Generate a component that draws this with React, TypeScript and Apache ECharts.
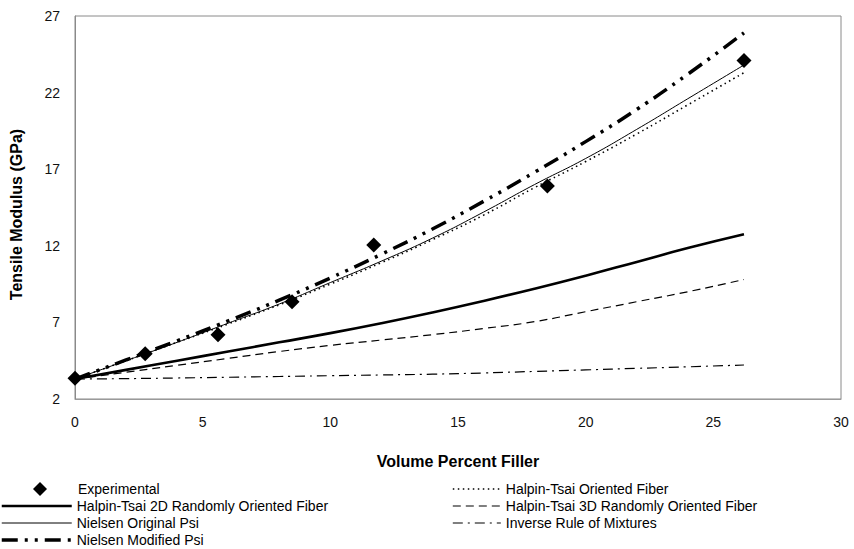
import React, { useEffect, useRef } from "react";
import * as echarts from "echarts";

const xModel = [0, 2, 4, 6, 8, 10, 12, 14, 16, 18, 20, 22, 24, 26.2];
const htOriented = [3.3, 4.5, 5.7, 6.9, 8.15, 9.5, 10.9, 12.4, 14.0, 15.8, 17.5, 19.3, 21.2, 23.3];
const ht2D = [3.3, 3.9, 4.5, 5.1, 5.7, 6.3, 6.95, 7.65, 8.4, 9.2, 10.05, 10.95, 11.85, 12.75];
const ht3D = [3.3, 3.75, 4.2, 4.65, 5.1, 5.5, 5.85, 6.2, 6.6, 7.05, 7.7, 8.35, 9.0, 9.8];
const nielsenOriginal = [3.3, 4.5, 5.7, 6.95, 8.2, 9.6, 11.0, 12.5, 14.2, 16.0, 17.7, 19.6, 21.6, 23.8];
const nielsenModified = [3.3, 4.55, 5.8, 7.1, 8.45, 9.9, 11.45, 13.1, 14.9, 16.8, 18.8, 20.9, 23.2, 25.9];
const inverseROM = [3.3, 3.33, 3.37, 3.42, 3.47, 3.52, 3.57, 3.62, 3.7, 3.8, 3.9, 4.0, 4.1, 4.22];

const expX = [0, 2.75, 5.6, 8.5, 11.7, 18.5, 26.2];
const expY = [3.35, 4.95, 6.2, 8.35, 12.05, 15.9, 24.1];

const xTicks = [0, 5, 10, 15, 20, 25, 30];
const yTicks = [2, 7, 12, 17, 22, 27];

const FONT = "'Liberation Sans', Arial, sans-serif";

const S_EXP = "Experimental";
const S_HTO = "Halpin-Tsai Oriented Fiber";
const S_HT2 = "Halpin-Tsai 2D Randomly Oriented Fiber";
const S_HT3 = "Halpin-Tsai 3D Randomly Oriented Fiber";
const S_NO = "Nielsen Original Psi";
const S_ROM = "Inverse Rule of Mixtures";
const S_NM = "Nielsen Modified Psi";

const pair = (ys: number[]) => xModel.map((x, i) => [x, ys[i]]);

export default function App() {
  const ref = useRef<HTMLDivElement>(null);
  useEffect(() => {
    if (!ref.current) return;
    const chart = echarts.init(ref.current, null, { renderer: "svg" });
    const lineStyles: Record<string, { width: number; type: any }> = {
      [S_HTO]: { width: 1.6, type: [1.5, 3.5] },
      [S_HT2]: { width: 2.6, type: "solid" },
      [S_HT3]: { width: 1.2, type: [8, 5] },
      [S_NO]: { width: 1, type: "solid" },
      [S_ROM]: { width: 1.2, type: [10, 5, 2, 5] },
      [S_NM]: { width: 3.5, type: [16, 7, 3, 7, 3, 7] },
    };
    const lineSeries = (name: string, ys: number[]) => ({
      name,
      type: "line",
      data: pair(ys),
      symbol: "none",
      smooth: true,
      lineStyle: { color: "#000", ...lineStyles[name] },
      itemStyle: { color: "#000" },
      z: 3,
    });
    const lineLegendItem = (name: string) => ({
      name,
      itemStyle: { opacity: 0 },
      lineStyle: { color: "#000", ...lineStyles[name] },
    });
    const legendBase = {
      orient: "vertical",
      itemHeight: 14,
      itemGap: 3,
      padding: 0,
      textStyle: { fontSize: 14, color: "#000", fontFamily: FONT },
    };
    chart.setOption({
      animation: false,
      backgroundColor: "#fff",
      textStyle: { fontFamily: FONT },
      grid: {
        left: 72,
        right: 13,
        top: 16,
        bottom: 150,
        show: true,
        borderColor: "#8a8a8a",
        borderWidth: 1,
      },
      xAxis: {
        type: "value",
        min: xTicks[0],
        max: xTicks[xTicks.length - 1],
        interval: 5,
        name: "Volume Percent Filler",
        nameLocation: "middle",
        nameGap: 54,
        nameTextStyle: { fontWeight: "bold", fontSize: 16, color: "#000", fontFamily: FONT },
        axisLine: { show: true, lineStyle: { color: "#9a9a9a", width: 1 } },
        axisTick: { show: false },
        splitLine: { show: false },
        axisLabel: { fontSize: 14, color: "#111", margin: 16, fontFamily: FONT },
      },
      yAxis: {
        type: "value",
        min: yTicks[0],
        max: yTicks[yTicks.length - 1],
        interval: 5,
        name: "Tensile Modulus (GPa)",
        nameLocation: "middle",
        nameGap: 51,
        nameTextStyle: { fontWeight: "bold", fontSize: 16, color: "#000", fontFamily: FONT, padding: [0, 14, 0, 0] },
        axisLine: { show: true, lineStyle: { color: "#8a8a8a", width: 1 } },
        axisTick: { show: false },
        splitLine: { show: false },
        axisLabel: { fontSize: 14, color: "#111", margin: 15, fontFamily: FONT },
      },
      legend: [
        {
          ...legendBase,
          data: [{ name: S_EXP, icon: "diamond", itemStyle: { color: "#000", opacity: 1 } }],
          left: 33,
          top: 482,
          itemWidth: 14,
          textStyle: { ...legendBase.textStyle, padding: [0, 0, 0, 26] },
        },
        { ...legendBase, data: [S_HT2, S_NO, S_NM].map(lineLegendItem), left: 0, top: 499, itemWidth: 70 },
        { ...legendBase, data: [S_HTO, S_HT3, S_ROM].map(lineLegendItem), left: 452, top: 482, itemWidth: 48 },
      ],
      series: [
        {
          name: S_EXP,
          type: "scatter",
          data: expX.map((x, i) => [x, expY[i]]),
          symbol: "diamond",
          symbolSize: 15,
          itemStyle: { color: "#000", opacity: 1 },
          z: 5,
        },
        lineSeries(S_HTO, htOriented),
        lineSeries(S_HT2, ht2D),
        lineSeries(S_HT3, ht3D),
        lineSeries(S_NO, nielsenOriginal),
        lineSeries(S_ROM, inverseROM),
        lineSeries(S_NM, nielsenModified),
      ],
    });
    return () => chart.dispose();
  }, []);
  return (
    <div
      ref={ref}
      style={{ position: "absolute", left: 0, top: 0, width: 854, height: 549, background: "#fff" }}
    />
  );
}
